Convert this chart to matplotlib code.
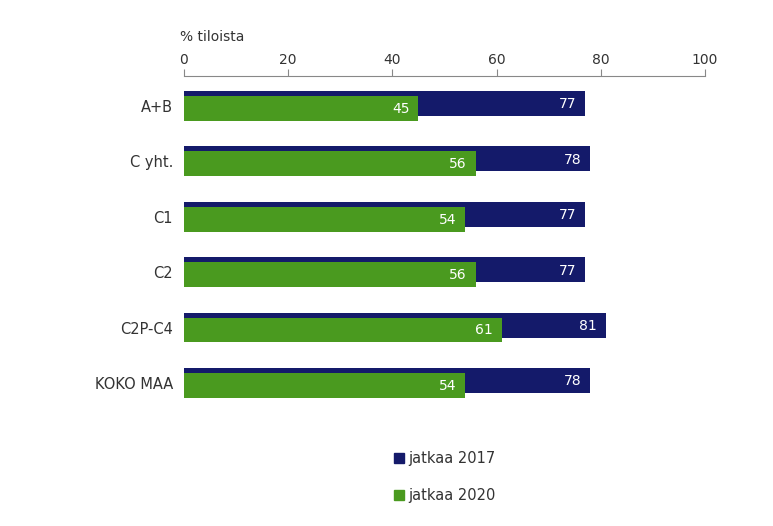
import matplotlib.pyplot as plt
from matplotlib.patches import Patch

# data
categories = ['A+B', 'C yht.', 'C1', 'C2', 'C2P-C4', 'KOKO MAA']
jatkaa_2017 = [77, 78, 77, 77, 81, 78]
jatkaa_2020 = [45, 56, 54, 56, 61, 54]
xticks = [0, 20, 40, 60, 80, 100]

blue = '#141a6a'
green = '#4a9a1f'
txt = '#333333'

plt.rcParams['font.family'] = 'DejaVu Sans'
plt.rcParams['font.size'] = 10

fig = plt.figure(figsize=(7.73, 5.26), dpi=100)
ax = fig.add_axes([184 / 773, 1 - 420 / 526, 521 / 773, 344 / 526])

pos = list(range(len(categories)))
ax.barh([p - 0.045 for p in pos], jatkaa_2017, height=0.45, color=blue, zorder=2)
ax.barh([p + 0.043 for p in pos], jatkaa_2020, height=0.446, color=green, zorder=3)

# value labels inside bar ends
for p, v in zip(pos, jatkaa_2017):
    ax.text(v - 1.7, p - 0.03, str(v), color='white', ha='right', va='center', fontsize=10, zorder=4)
for p, v in zip(pos, jatkaa_2020):
    ax.text(v - 1.7, p + 0.05, str(v), color='white', ha='right', va='center', fontsize=10, zorder=4)

ax.set_xlim(0, 100)
ax.set_ylim(5.668, -0.542)
ax.set_xticks(xticks)
ax.xaxis.set_ticks_position('top')
ax.tick_params(axis='x', direction='out', length=5, color='#888888', labelcolor=txt, pad=1.5)
ax.set_yticks(pos)
ax.set_yticklabels(categories)
ax.tick_params(axis='y', length=0, pad=8, labelcolor=txt, labelsize=10.5)

for s in ['right', 'bottom', 'left']:
    ax.spines[s].set_visible(False)
ax.spines['top'].set_color('#888888')
ax.spines['top'].set_linewidth(0.8)

fig.text(180 / 773, 1 - 37 / 526, '% tiloista', color=txt, ha='left', va='center', fontsize=10)

handles = [Patch(color=blue, label='jatkaa 2017'), Patch(color=green, label='jatkaa 2020')]
fig.legend(handles=handles, loc='upper left', bbox_to_anchor=(388 / 773, 1 - 445 / 526),
           frameon=False, handlelength=0.7, handleheight=0.7, handletextpad=0.3,
           labelspacing=1.55, fontsize=10.5, labelcolor=txt, borderaxespad=0)

fig.savefig('out.png', dpi=100)
